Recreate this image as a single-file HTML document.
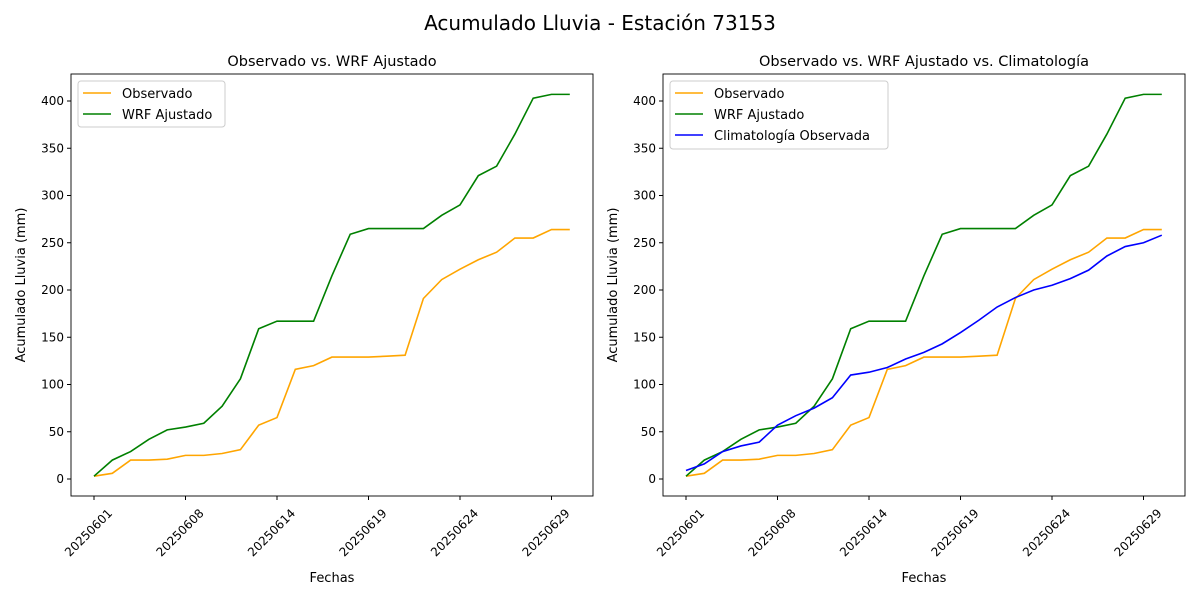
<!DOCTYPE html>
<html><head><meta charset="utf-8"><style>body{margin:0;background:#fff}svg{display:block}text{font-family:"DejaVu Sans","Liberation Sans",sans-serif;fill:#000}</style></head>
<body>
<svg id="s" width="1200" height="600" xmlns="http://www.w3.org/2000/svg"></svg>
<script>
const obs=[3,6,20,20,21,25,25,27,31,57,65,116,120,129,129,129,130,131,191,211,222,232,240,255,255,264,264];
const wrf=[3,20,29,42,52,55,59,77,106,159,167,167,167,215,259,265,265,265,265,279,290,321,331,365,403,407,407];
const cli=[9,16,29,35,39,57,67,75,86,110,113,118,127,134,143,155,168,182,192,200,205,212,221,236,246,250,258];
const ticks=["20250601","20250608","20250614","20250619","20250624","20250629"];
let h='<text x="600" y="30" font-size="20" text-anchor="middle">Acumulado Lluvia - Estación 73153</text>';
function panel(x0,title,series,legend){
 const x1=x0+522,y0=74,y1=496;
 const X=i=>x0+23+18.3*i, Y=v=>479-v*0.945;
 h+=`<text x="${(x0+x1)/2}" y="66" font-size="14.5" text-anchor="middle">${title}</text>`;
 for(let v=0;v<=400;v+=50){const y=Y(v);h+=`<line x1="${x0-4}" x2="${x0}" y1="${y}" y2="${y}" stroke="#000"/><text x="${x0-7}" y="${y+4}" font-size="12" text-anchor="end">${v}</text>`;}
 ticks.forEach((t,k)=>{const x=X(k*5);h+=`<line x1="${x}" x2="${x}" y1="${y1}" y2="${y1+4}" stroke="#000"/><text transform="translate(${x+19},${y1+18}) rotate(-45)" font-size="12" text-anchor="end">${t}</text>`;});
 series.forEach(([d,c])=>{h+=`<polyline fill="none" stroke="${c}" stroke-width="1.6" points="${d.map((v,i)=>X(i)+','+Y(v)).join(' ')}"/>`;});
 h+=`<rect x="${x0}" y="${y0}" width="522" height="422" fill="none" stroke="#000" stroke-width="0.9"/>`;
 h+=`<text x="${(x0+x1)/2}" y="582" font-size="13" text-anchor="middle">Fechas</text>`;
 h+=`<text transform="translate(${x0-46},285) rotate(-90)" font-size="13" text-anchor="middle">Acumulado Lluvia (mm)</text>`;
 const lw=legend==2?147:218, lh=legend==2?46:68;
 h+=`<rect x="${x0+7}" y="81" width="${lw}" height="${lh}" rx="3" fill="#fff" stroke="#ccc"/>`;
 const names=["Observado","WRF Ajustado","Climatología Observada"],cols=["orange","green","blue"];
 for(let i=0;i<legend;i++){const y=93+i*21;h+=`<line x1="${x0+12}" x2="${x0+40}" y1="${y}" y2="${y}" stroke="${cols[i]}" stroke-width="1.6"/><text x="${x0+51}" y="${y+5}" font-size="13">${names[i]}</text>`;}
}
panel(71,"Observado vs. WRF Ajustado",[[obs,"orange"],[wrf,"green"]],2);
panel(663,"Observado vs. WRF Ajustado vs. Climatología",[[obs,"orange"],[wrf,"green"],[cli,"blue"]],3);
document.getElementById('s').innerHTML=h;
</script>
</body></html>
